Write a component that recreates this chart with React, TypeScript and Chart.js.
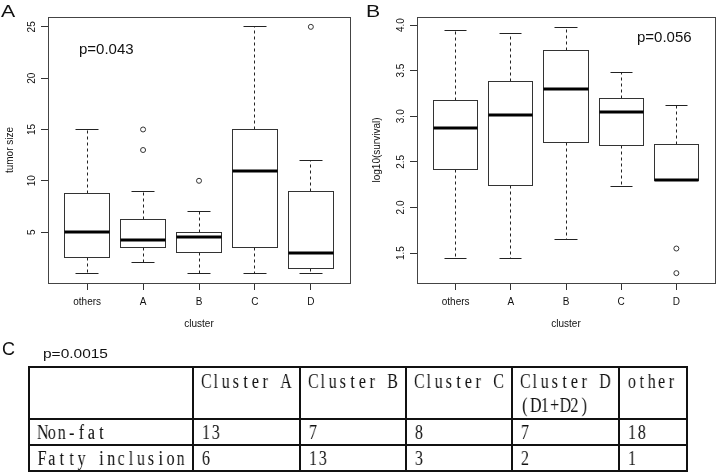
import React, { useEffect, useRef } from "react";
import { Chart, registerables } from "chart.js";

Chart.register(...registerables);

// ---------- data ----------
const categories = ["others", "A", "B", "C", "D"];

// Panel A: tumor size by cluster
const sizeLow = [1, 2, 1, 1, 1];
const sizeQ1 = [2.5, 3.5, 3, 3.5, 1.5];
const sizeMedian = [5, 4.25, 4.5, 11, 3];
const sizeQ3 = [8.75, 6.25, 5, 15, 9];
const sizeHigh = [15, 9, 7, 25, 12];
const sizeOutliers = [[], [13, 15], [10], [], [25]];
const sizeTicks = [5, 10, 15, 20, 25];
const sizeTickLabels = ["5", "10", "15", "20", "25"];
const sizeRange = [0.04, 25.96];

// Panel B: log10(survival) by cluster
const survLow = [1.445, 1.445, 1.653, 2.235, 2.3];
const survQ1 = [2.42, 2.246, 2.712, 2.68, 2.3];
const survMedian = [2.871, 3.01, 3.297, 3.048, 2.3];
const survQ3 = [3.174, 3.384, 3.72, 3.2, 2.69];
const survHigh = [3.945, 3.905, 3.978, 3.476, 3.122];
const survOutliers = [[], [], [], [], [1.55, 1.28]];
const survTicks = [1.5, 2, 2.5, 3, 3.5, 4];
const survTickLabels = ["1.5", "2.0", "2.5", "3.0", "3.5", "4.0"];
const survRange = [1.172, 4.088];

// Panel C: table
const tableHeader = ["", "Cluster A", "Cluster B", "Cluster C", "Cluster D\n(D1+D2)", "other"];
const rowNonFat = ["Non-fat", "13", "7", "8", "7", "18"];
const rowFatty = ["Fatty inclusion", "6", "13", "3", "2", "1"];

// ---------- layout constants ----------
const FONT = "'Liberation Sans', Arial, Helvetica, sans-serif";
const colEdges = [28, 192, 299, 405, 511, 618, 686];
const rowEdges = [366, 418, 444, 470];
const CHAR_SCALE = 0.8;
const CHAR_ADVANCE = 9.9;

const crisp = (v: number) => Math.round(v - 0.5) + 0.5;

const boxplotPlugin = {
  id: "boxplot",
  beforeDatasetsDraw(chart: any, _args: any, opts: any) {
    const { ctx } = chart;
    const x = chart.scales.x;
    const y = chart.scales.y;
    const n = opts.median.length;
    ctx.save();
    const line = (x1: number, y1: number, x2: number, y2: number) => {
      ctx.beginPath();
      ctx.moveTo(x1, y1);
      ctx.lineTo(x2, y2);
      ctx.stroke();
    };
    for (let i = 0; i < n; i++) {
      const pos = i + 1;
      const cx = crisp(x.getPixelForValue(pos));
      const bl = crisp(x.getPixelForValue(pos - 0.4));
      const br = crisp(x.getPixelForValue(pos + 0.4));
      const cl = crisp(x.getPixelForValue(pos - 0.2));
      const cr = crisp(x.getPixelForValue(pos + 0.2));
      const yLo = crisp(y.getPixelForValue(opts.low[i]));
      const yQ1 = crisp(y.getPixelForValue(opts.q1[i]));
      const yMed = Math.round(y.getPixelForValue(opts.median[i]));
      const yQ3 = crisp(y.getPixelForValue(opts.q3[i]));
      const yHi = crisp(y.getPixelForValue(opts.high[i]));
      ctx.strokeStyle = "#222";
      ctx.lineWidth = 1;
      ctx.setLineDash([3, 3]);
      line(cx, yQ3, cx, yHi);
      line(cx, yQ1, cx, yLo);
      ctx.setLineDash([]);
      line(cl, yHi, cr, yHi);
      line(cl, yLo, cr, yLo);
      ctx.fillStyle = "#fff";
      ctx.fillRect(bl, yQ3, br - bl, yQ1 - yQ3);
      ctx.strokeStyle = "#333";
      ctx.strokeRect(bl, yQ3, br - bl, yQ1 - yQ3);
      ctx.strokeStyle = "#000";
      ctx.lineWidth = 3;
      line(bl, yMed, br, yMed);
    }
    ctx.restore();
  },
  afterDraw(chart: any) {
    const { ctx, chartArea } = chart;
    ctx.save();
    ctx.strokeStyle = "#444";
    ctx.lineWidth = 1;
    const l = crisp(chartArea.left);
    const t = crisp(chartArea.top);
    const r = crisp(chartArea.right);
    const b = crisp(chartArea.bottom);
    ctx.strokeRect(l, t, r - l, b - t);
    ctx.restore();
  },
};

type PanelCfg = {
  low: number[];
  q1: number[];
  median: number[];
  q3: number[];
  high: number[];
  outliers: number[][];
  ticks: number[];
  tickLabels: string[];
  range: number[];
  yTitle: string;
  padding: { left: number; top: number; right: number; bottom: number };
  yWidth: number;
  yTitlePad: number;
  yTickPad: number;
};

function makeChart(canvas: HTMLCanvasElement, cfg: PanelCfg) {
  const points: { x: number; y: number }[] = [];
  cfg.outliers.forEach((vals, i) => vals.forEach((v) => points.push({ x: i + 1, y: v })));
  const gridOpts = {
    display: true,
    drawOnChartArea: false,
    drawTicks: true,
    tickLength: 7,
    color: "#333",
    lineWidth: 1,
  };
  return new Chart(canvas, {
    type: "scatter",
    data: {
      datasets: [
        {
          data: points,
          pointStyle: "circle",
          pointRadius: 2.5,
          pointBorderWidth: 1,
          pointBorderColor: "#333",
          pointBackgroundColor: "#fff",
        },
      ],
    },
    options: {
      responsive: false,
      animation: false,
      layout: { padding: cfg.padding },
      plugins: {
        legend: { display: false },
        tooltip: { enabled: false },
        // @ts-ignore
        boxplot: { low: cfg.low, q1: cfg.q1, median: cfg.median, q3: cfg.q3, high: cfg.high },
      },
      scales: {
        x: {
          type: "linear",
          min: 0.3,
          max: 5.7,
          afterBuildTicks: (s: any) => {
            s.ticks = categories.map((_, i) => ({ value: i + 1 }));
          },
          afterFit: (s: any) => {
            s.height = 50;
          },
          grid: gridOpts,
          border: { display: false },
          ticks: {
            padding: 6,
            color: "#111",
            autoSkip: false,
            maxRotation: 0,
            font: { family: FONT, size: 10 },
            callback: (v: any) => categories[Math.round(v) - 1] ?? "",
          },
          title: {
            display: true,
            text: "cluster",
            color: "#111",
            font: { family: FONT, size: 10 },
            padding: { top: 0, bottom: 3 },
          },
        },
        y: {
          type: "linear",
          min: cfg.range[0],
          max: cfg.range[1],
          afterBuildTicks: (s: any) => {
            s.ticks = cfg.ticks.map((v) => ({ value: v }));
          },
          afterFit: (s: any) => {
            s.width = cfg.yWidth;
          },
          grid: gridOpts,
          border: { display: false },
          ticks: {
            padding: cfg.yTickPad,
            color: "#111",
            autoSkip: false,
            minRotation: 90,
            maxRotation: 90,
            crossAlign: "center",
            font: { family: FONT, size: 10 },
            callback: (_v: any, i: number) => cfg.tickLabels[i],
          },
          title: {
            display: true,
            text: cfg.yTitle,
            color: "#111",
            font: { family: FONT, size: 10 },
            padding: { top: cfg.yTitlePad, bottom: 0 },
          },
        },
      },
    } as any,
    plugins: [boxplotPlugin as any],
  });
}

const textStyle = (left: number, top: number, size: number, sx = 1): React.CSSProperties => ({
  position: "absolute",
  left,
  top,
  fontFamily: FONT,
  fontSize: size,
  lineHeight: `${size}px`,
  color: "#111",
  whiteSpace: "nowrap",
  transform: sx !== 1 ? `scaleX(${sx})` : undefined,
  transformOrigin: "left top",
});

// Monospaced serif line (emulates a CJK Mincho font's half-width Latin glyphs)
function MonoLine({ text }: { text: string }) {
  return (
    <div
      style={{
        whiteSpace: "pre",
        transform: `scaleX(${CHAR_SCALE})`,
        transformOrigin: "left top",
        willChange: "transform",
        height: 24,
      }}
    >
      {Array.from(text).map((ch, i) => (
        <span
          key={i}
          style={{
            display: "inline-block",
            width: CHAR_ADVANCE / CHAR_SCALE,
            textAlign: "center",
          }}
        >
          {ch === " " ? "\u00a0" : ch}
        </span>
      ))}
    </div>
  );
}

export default function App() {
  const refA = useRef<HTMLCanvasElement>(null);
  const refB = useRef<HTMLCanvasElement>(null);

  useEffect(() => {
    const a = makeChart(refA.current!, {
      low: sizeLow,
      q1: sizeQ1,
      median: sizeMedian,
      q3: sizeQ3,
      high: sizeHigh,
      outliers: sizeOutliers,
      ticks: sizeTicks,
      tickLabels: sizeTickLabels,
      range: sizeRange,
      yTitle: "tumor size",
      padding: { left: 0, top: 17, right: 10, bottom: 7 },
      yWidth: 48,
      yTitlePad: 4,
      yTickPad: 3,
    });
    const b = makeChart(refB.current!, {
      low: survLow,
      q1: survQ1,
      median: survMedian,
      q3: survQ3,
      high: survHigh,
      outliers: survOutliers,
      ticks: survTicks,
      tickLabels: survTickLabels,
      range: survRange,
      yTitle: "log10(survival)",
      padding: { left: 0, top: 17, right: 1, bottom: 7 },
      yWidth: 57,
      yTitlePad: 11,
      yTickPad: 2,
    });
    return () => {
      a.destroy();
      b.destroy();
    };
  }, []);

  const rows = [tableHeader, rowNonFat, rowFatty];

  return (
    <div
      style={{
        position: "fixed",
        left: 0,
        top: 0,
        width: 720,
        height: 472,
        background: "#fff",
        overflow: "hidden",
      }}
    >
      <canvas ref={refA} width={360} height={340} style={{ position: "absolute", left: 0, top: 0 }} />
      <canvas ref={refB} width={360} height={340} style={{ position: "absolute", left: 360, top: 0 }} />

      <div style={textStyle(1, 3, 17, 1.25)}>A</div>
      <div style={textStyle(366, 3, 17, 1.25)}>B</div>
      <div style={textStyle(2, 340, 18)}>C</div>
      <div style={textStyle(79, 41, 15)}>p=0.043</div>
      <div style={textStyle(637, 29, 15)}>p=0.056</div>
      <div style={textStyle(43, 347, 13, 1.19)}>p=0.0015</div>

      {rows.map((row, r) =>
        row.map((cell, c) => {
          const left = colEdges[c];
          const top = rowEdges[r];
          const lastCol = c === row.length - 1;
          const lastRow = r === rows.length - 1;
          const w = (c + 1 < colEdges.length ? colEdges[c + 1] : 688) - left + (lastCol ? 2 : 0);
          const h = rowEdges[r + 1] - top + (lastRow ? 2 : 0);
          return (
            <div
              key={`${r}-${c}`}
              style={{
                position: "absolute",
                left,
                top,
                width: w,
                height: h,
                boxSizing: "border-box",
                borderLeft: "2px solid #111",
                borderTop: "2px solid #111",
                borderRight: lastCol ? "2px solid #111" : undefined,
                borderBottom: lastRow ? "2px solid #111" : undefined,
                paddingLeft: 7,
                paddingTop: r === 0 ? 1 : 0,
                fontFamily: "'Liberation Serif', 'DejaVu Serif', serif",
                fontSize: 20,
                lineHeight: "24px",
                color: "#111",
                overflow: "visible",
              }}
            >
              {cell.split("\n").map((ln, k) => (
                <MonoLine key={k} text={ln} />
              ))}
            </div>
          );
        })
      )}
    </div>
  );
}
